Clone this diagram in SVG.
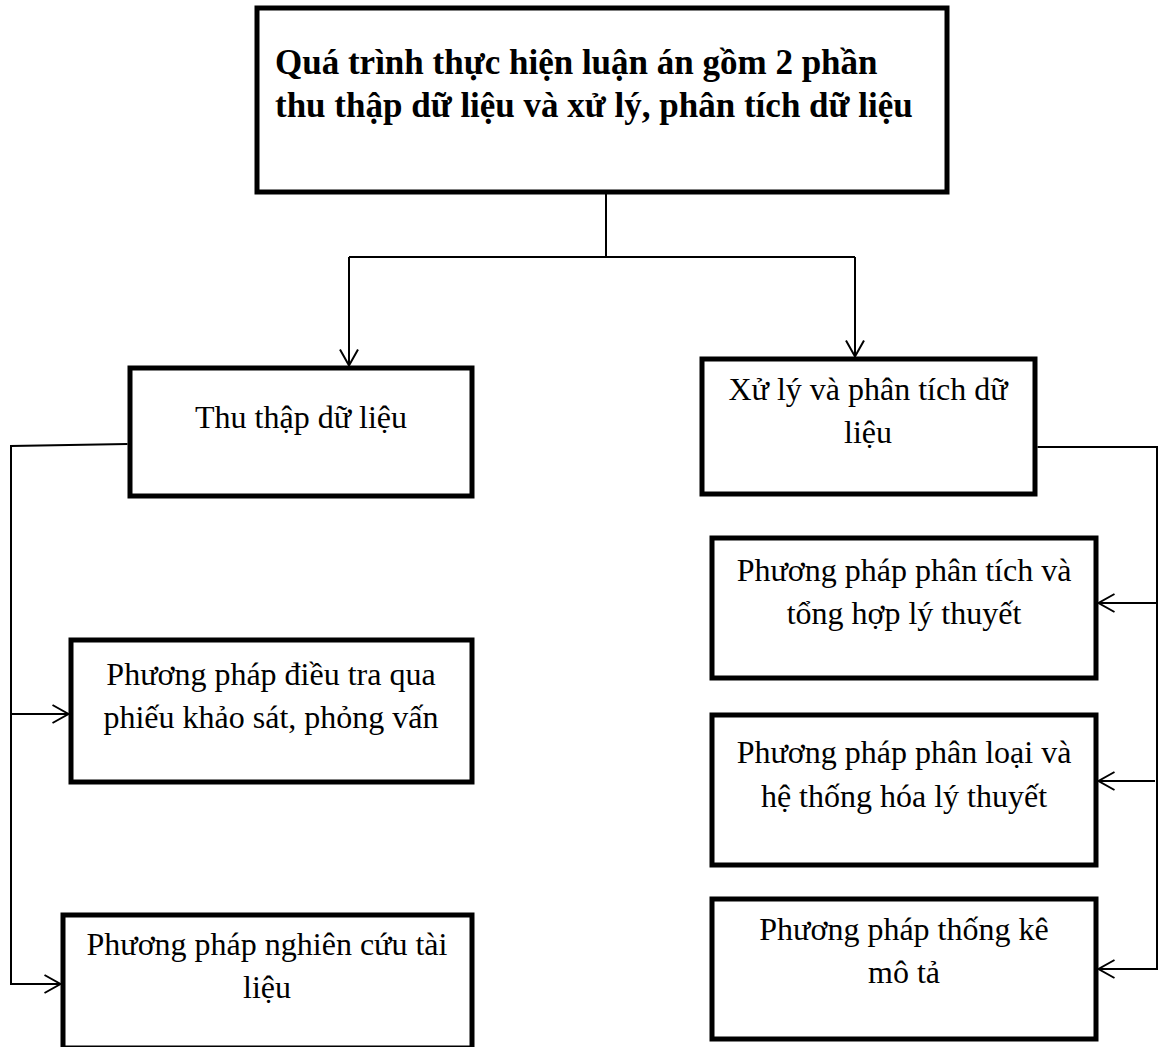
<svg xmlns="http://www.w3.org/2000/svg" width="1160" height="1047" viewBox="0 0 1160 1047">
<style>
.box{fill:#fff;stroke:#000;stroke-width:5}
.t{font-family:"Liberation Serif","Times New Roman",serif;font-size:32px;fill:#000;text-anchor:middle}
.tb{font-family:"Liberation Serif","Times New Roman",serif;font-size:35px;font-weight:bold;fill:#000}
.c{fill:none;stroke:#000;stroke-width:2}
</style>
<defs>
<marker id="ah" markerUnits="userSpaceOnUse" markerWidth="24" markerHeight="24" viewBox="-20 -12 24 24" refX="0" refY="0" orient="auto">
<path d="M-16,-9 L0,0 L-16,9" fill="none" stroke="#000" stroke-width="2"/>
</marker>
</defs>
<rect width="1160" height="1047" fill="#fff"/>
<g id="connectors">
<path class="c" d="M606,192 V257"/>
<path class="c" d="M349,257 H855"/>
<path class="c" d="M349,257 V365.5" marker-end="url(#ah)"/>
<path class="c" d="M855,257 V356.5" marker-end="url(#ah)"/>
<path class="c" d="M127.5,444 L11,446 V984 H60.5" marker-end="url(#ah)"/>
<path class="c" d="M11,714 H68.5" marker-end="url(#ah)"/>
<path class="c" d="M1037.5,447 H1157 V969 H1098.5" marker-end="url(#ah)"/>
<path class="c" d="M1157,603 H1098.5" marker-end="url(#ah)"/>
<path class="c" d="M1155,781 H1098.5" marker-end="url(#ah)"/>
</g>
<g id="root">
<rect class="box" x="257" y="8" width="690" height="184"/>
<text class="tb" x="275" y="74">Quá trình thực hiện luận án gồm 2 phần</text>
<text class="tb" x="275" y="117">thu thập dữ liệu và xử lý, phân tích dữ liệu</text>
</g>
<g id="thu-thap">
<rect class="box" x="130" y="368" width="342" height="128"/>
<text class="t" x="301" y="428">Thu thập dữ liệu</text>
</g>
<g id="xu-ly">
<rect class="box" x="702" y="359" width="333" height="135"/>
<text class="t" x="868" y="400">Xử lý và phân tích dữ</text>
<text class="t" x="868" y="443">liệu</text>
</g>
<g id="dieu-tra">
<rect class="box" x="71" y="640" width="401" height="142"/>
<text class="t" x="271" y="685">Phương pháp điều tra qua</text>
<text class="t" x="271" y="728">phiếu khảo sát, phỏng vấn</text>
</g>
<g id="nghien-cuu">
<rect class="box" x="63" y="915" width="409" height="133"/>
<text class="t" x="267" y="955">Phương pháp nghiên cứu tài</text>
<text class="t" x="267" y="998">liệu</text>
</g>
<g id="phan-tich">
<rect class="box" x="712" y="538" width="384" height="140"/>
<text class="t" x="904" y="581">Phương pháp phân tích và</text>
<text class="t" x="904" y="624">tổng hợp lý thuyết</text>
</g>
<g id="phan-loai">
<rect class="box" x="712" y="715" width="384" height="150"/>
<text class="t" x="904" y="763">Phương pháp phân loại và</text>
<text class="t" x="904" y="807">hệ thống hóa lý thuyết</text>
</g>
<g id="thong-ke">
<rect class="box" x="712" y="899" width="384" height="140"/>
<text class="t" x="904" y="940">Phương pháp thống kê</text>
<text class="t" x="904" y="983">mô tả</text>
</g>
</svg>
